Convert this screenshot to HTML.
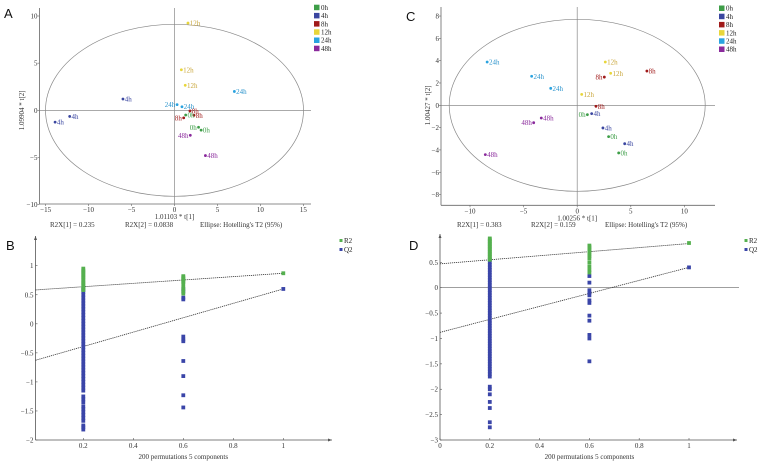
<!DOCTYPE html>
<html><head><meta charset="utf-8"><style>
html,body{margin:0;padding:0;background:#fff;}
svg{display:block;font-family:"Liberation Serif",serif;}
</style></head><body>
<svg id="fig" width="763" height="466" viewBox="0 0 763 466" xmlns="http://www.w3.org/2000/svg"></svg>
<script>
// ---------- Data: score plot A ----------
const aGroups = ["12h","12h","12h","24h","4h","4h","4h","24h","24h","8h","8h","8h","0h","0h","0h","48h","48h"];
const aX = [1.57,0.8,1.25,6.97,-6.0,-12.2,-13.9,0.3,0.87,1.8,2.27,1.07,1.3,2.8,3.1,1.84,3.6];
const aY = [9.25,4.3,2.65,2.0,1.2,-0.65,-1.25,0.6,0.38,-0.07,-0.53,-0.8,-0.5,-1.8,-2.1,-2.65,-4.8];
const aSide = ["r","r","r","r","r","r","r","l","r","r","r","l","r","l","r","l","r"];
// ---------- Data: score plot C ----------
const cGroups = ["24h","24h","24h","12h","12h","12h","8h","8h","8h","0h","4h","4h","0h","4h","0h","48h","48h","48h"];
const cX = [-8.4,-4.25,-2.47,2.62,3.12,0.42,6.5,2.53,1.75,0.95,1.35,2.4,2.93,4.43,3.87,-3.35,-4.06,-8.57];
const cY = [3.88,2.6,1.52,3.88,2.87,0.98,3.07,2.53,-0.09,-0.84,-0.75,-2.03,-2.81,-3.44,-4.27,-1.14,-1.56,-4.42];
const cSide = ["r","r","r","r","r","r","r","l","r","l","r","r","r","r","r","r","l","r"];
// ---------- Data: permutation B ----------
const bR2_02 = [0.95,0.92,0.9,0.88,0.85,0.83,0.8,0.78,0.75,0.72,0.7,0.68,0.65,0.62,0.6,0.58];
const bQ2_02 = [0.62,0.58,0.55,0.5,0.45,0.4,0.35,0.3,0.25,0.2,0.15,0.1,0.05,0,-0.05,-0.1,-0.15,-0.2,-0.25,-0.3,-0.35,-0.4,-0.45,-0.5,-0.55,-0.6,-0.65,-0.7,-0.75,-0.8,-0.85,-0.9,-0.95,-1,-1.05,-1.1,-1.15,-1.25,-1.3,-1.35,-1.42,-1.47,-1.52,-1.57,-1.62,-1.67,-1.75,-1.78,-1.82];
const bR2_06 = [0.82,0.8,0.78,0.76,0.74,0.72,0.68,0.62,0.57,0.52];
const bQ2_06 = [0.6,0.55,0.45,0.42,-0.22,-0.27,-0.3,-0.64,-0.9,-1.23,-1.44];
const bR2_1 = [0.87];
const bQ2_1 = [0.6];
const bR2Line = [0.58,0.87];
const bQ2Line = [-0.64,0.6];
// ---------- Data: permutation D ----------
const dR2_02 = [0.97,0.95,0.92,0.9,0.87,0.85,0.82,0.8,0.77,0.75,0.72,0.7,0.67,0.65,0.62,0.6,0.57,0.55];
const dQ2_02 = [0.55,0.5,0.45,0.4,0.35,0.3,0.25,0.2,0.15,0.1,0.05,0,-0.05,-0.1,-0.15,-0.2,-0.25,-0.3,-0.35,-0.4,-0.45,-0.5,-0.55,-0.6,-0.65,-0.7,-0.75,-0.8,-0.85,-0.9,-0.95,-1,-1.05,-1.1,-1.15,-1.2,-1.25,-1.3,-1.35,-1.4,-1.45,-1.5,-1.55,-1.6,-1.65,-1.7,-1.75,-1.95,-2,-2.1,-2.25,-2.37,-2.65,-2.75];
const dR2_06 = [0.83,0.8,0.77,0.74,0.7,0.66,0.62,0.58,0.5,0.42,0.35,0.3];
const dQ2_06 = [0.23,0.1,-0.05,-0.1,-0.15,-0.25,-0.3,-0.55,-0.65,-0.93,-1.0,-1.45];
const dR2_1 = [0.88];
const dQ2_1 = [0.4];
const dR2Line = [0.47,0.87];
const dQ2Line = [-0.88,0.4];
// ---------- Legend ----------
const legendGroups = ["0h","4h","8h","12h","24h","48h"];
const groupColors = {"0h":"#3e9e48","4h":"#3a46a0","8h":"#a01a1a","12h":"#e8d63a","24h":"#2aa3e0","48h":"#8a2a9c"};
const groupText = {"0h":"#3e9e48","4h":"#3a46a0","8h":"#a01a1a","12h":"#c9a63a","24h":"#2a93cc","48h":"#8a2a9c"};
const R2C = "#55b04f", Q2C = "#3a45a8";

const NS = "http://www.w3.org/2000/svg";
const svg = document.getElementById("fig");
function el(tag, attrs, parent, txt){
  const e = document.createElementNS(NS, tag);
  for (const k in attrs) e.setAttribute(k, attrs[k]);
  if (txt !== undefined) e.textContent = txt;
  (parent || svg).appendChild(e);
  return e;
}
function grp(name){
  const g = document.createElementNS(NS, "g");
  
  
  svg.appendChild(g);
  return g;
}
function txt(g, x, y, s, opts){
  const t = el("text", Object.assign({x:x, y:y, "font-size":7, fill:"#333"}, opts||{}), g, s);
  return t;
}

// ---------- Score plot ----------
function scorePlot(c){
  const g = grp(c.name);
  const sx = v => c.x0 + c.kx * v;
  const sy = v => c.y0 - c.ky * v;
  // axes
  el("line",{x1:c.left,y1:c.top,x2:c.left,y2:c.bottom,stroke:"#666","stroke-width":0.8},g);
  el("line",{x1:c.left,y1:c.bottom,x2:c.right,y2:c.bottom,stroke:"#666","stroke-width":0.8},g);
  el("line",{x1:c.left,y1:sy(0),x2:c.right,y2:sy(0),stroke:"#777","stroke-width":0.7},g);
  el("line",{x1:sx(0),y1:c.top,x2:sx(0),y2:c.bottom,stroke:"#888","stroke-width":0.7},g);
  el("ellipse",{cx:sx(0),cy:sy(0),rx:c.rx,ry:c.ry,fill:"none",stroke:"#888","stroke-width":0.7},g);
  c.xt.forEach(v=>{
    el("line",{x1:sx(v),y1:c.bottom,x2:sx(v),y2:c.bottom+2,stroke:"#666","stroke-width":0.6},g);
    const t = txt(g,sx(v),c.bottom+8,String(v).replace("-","−"),{"text-anchor":"middle"});
    
    
  });
  c.yt.forEach(v=>{
    el("line",{x1:c.left-2,y1:sy(v),x2:c.left,y2:sy(v),stroke:"#666","stroke-width":0.6},g);
    const t = txt(g,c.left-2,sy(v)+2.5,String(v).replace("-","−"),{"text-anchor":"end"});
    
    
  });
  const xt = txt(g,sx(0),c.bottom+15,c.xTitle,{"text-anchor":"middle"});
  
  
  const yt = txt(g,0,0,c.yTitle,{"text-anchor":"middle",transform:`translate(${c.yTitleX},${sy(0)}) rotate(-90)`});
  
  
  c.stats.forEach((s,i)=>{
    const t = txt(g,s[1],227,s[0]);
    
    
  });
  // points
  c.X.forEach((v,i)=>{
    const gr = c.G[i];
    const px = sx(v), py = sy(c.Y[i]);
    const p = el("circle",{cx:px,cy:py,r:1.4,fill:groupColors[gr]},g);
    
    
    const lab = c.S[i]==="l"
      ? txt(g,px-1.8,py+2.5,gr,{"text-anchor":"end",fill:groupText[gr]})
      : txt(g,px+1.8,py+2.5,gr,{fill:groupText[gr]});
    
    
  });
  // legend
  legendGroups.forEach((gr,i)=>{
    const y = c.legY + i*8.2;
    const r = el("rect",{x:c.legX,y:y-2.8,width:5.5,height:5.5,fill:groupColors[gr]},g);
    
    
    const t = txt(g,c.legX+7,y+2.4,gr,{fill:"#222"});
    
    
  });
  const L = el("text",{x:c.letterX,y:c.letterY,"font-size":13,fill:"#111","font-family":"Liberation Sans, sans-serif"},g,c.letter);
  
  
}

scorePlot({name:"score-plot-a",letter:"A",letterX:4,letterY:18,x0:174.5,kx:8.59,y0:110.3,ky:9.43,
  left:39.5,right:311,top:8,bottom:204,rx:129,ry:86,xt:[-15,-10,-5,0,5,10,15],yt:[-10,-5,0,5,10],
  xTitle:"1.01103 * t[1]",yTitle:"1.09904 * t[2]",yTitleX:24,
  stats:[["R2X[1] = 0.235",50],["R2X[2] = 0.0838",125],["Ellipse: Hotelling's T2 (95%)",200]],
  X:aX,Y:aY,G:aGroups,S:aSide,legX:314,legY:7.5});
scorePlot({name:"score-plot-c",letter:"C",letterX:406,letterY:21,x0:577.2,kx:10.72,y0:105.3,ky:11.16,
  left:441,right:715,top:7,bottom:205.3,rx:128,ry:86,xt:[-10,-5,0,5,10],yt:[-8,-6,-4,-2,0,2,4,6,8],
  xTitle:"1.00256 * t[1]",yTitle:"1.00427 * t[2]",yTitleX:430,
  stats:[["R2X[1] = 0.383",457],["R2X[2] = 0.159",531],["Ellipse: Hotelling's T2 (95%)",605]],
  X:cX,Y:cY,G:cGroups,S:cSide,legX:719,legY:8.3});

// ---------- Permutation plot ----------
function permPlot(c){
  const g = grp(c.name);
  const sx = v => c.x0 + c.kx * v;
  const sy = v => c.y0 - c.ky * v;
  el("line",{x1:c.left,y1:c.top,x2:c.left,y2:c.bottom,stroke:"#555","stroke-width":0.8},g);
  el("path",{d:`M${c.left-1.5},${c.top+4} L${c.left},${c.top} L${c.left+1.5},${c.top+4}Z`,fill:"#555"},g);
  el("line",{x1:c.left,y1:c.bottom,x2:c.right,y2:c.bottom,stroke:"#555","stroke-width":0.8},g);
  el("path",{d:`M${c.right-4},${c.bottom-1.5} L${c.right},${c.bottom} L${c.right-4},${c.bottom+1.5}Z`,fill:"#555"},g);
  if (c.zeroLine) el("line",{x1:c.left,y1:sy(0),x2:c.zeroRight,y2:sy(0),stroke:"#666","stroke-width":0.7},g);
  c.xt.forEach(v=>{
    el("line",{x1:sx(v),y1:c.bottom,x2:sx(v),y2:c.bottom-2,stroke:"#555","stroke-width":0.6},g);
    const t = txt(g,sx(v),c.bottom+8,String(v),{"text-anchor":"middle"});
    
    
  });
  c.yt.forEach(v=>{
    el("line",{x1:c.left,y1:sy(v),x2:c.left+2,y2:sy(v),stroke:"#555","stroke-width":0.6},g);
    const t = txt(g,c.left-2,sy(v)+2.5,String(v).replace("-","−"),{"text-anchor":"end"});
    
    
  });
  const xt = txt(g,sx(0.6),c.bottom+19,"200 permutations 5 components",{"text-anchor":"middle"});
  
  
  // regression lines
  const l1 = el("line",{x1:c.left,y1:sy(c.r2Line[0]+(c.r2Line[1]-c.r2Line[0])*c.xmin),x2:sx(1),y2:sy(c.r2Line[1]),stroke:"#333","stroke-width":0.8,"stroke-dasharray":"1.2 0.8"},g);
  
  
  const l2 = el("line",{x1:c.left,y1:sy(c.q2Line[0]+(c.q2Line[1]-c.q2Line[0])*c.xmin),x2:sx(1),y2:sy(c.q2Line[1]),stroke:"#333","stroke-width":0.8,"stroke-dasharray":"1.2 0.8"},g);
  
  
  function pts(xv, arr, col, nm){
    arr.forEach(v=>{
      const r = el("rect",{x:sx(xv)-1.9,y:sy(v)-1.9,width:3.8,height:3.8,fill:col},g);
      
      
    });
  }
  pts(0.2,c.q2[0],Q2C,"q2-point"); pts(0.6,c.q2[1],Q2C,"q2-point"); pts(1,c.q2[2],Q2C,"q2-point");
  pts(0.2,c.r2[0],R2C,"r2-point"); pts(0.6,c.r2[1],R2C,"r2-point"); pts(1,c.r2[2],R2C,"r2-point");
  // legend
  [["R2",R2C],["Q2",Q2C]].forEach((e,i)=>{
    const y = c.legY + i*9;
    const r = el("rect",{x:c.legX-1.5,y:y-3,width:3,height:3,fill:e[1]},g);
    
    
    const t = txt(g,c.legX+3,y+1,e[0],{fill:"#222"});
    
    
  });
  const L = el("text",{x:c.letterX,y:c.letterY,"font-size":13,fill:"#111","font-family":"Liberation Sans, sans-serif"},g,c.letter);
  
  
}

permPlot({name:"permutation-plot-b",letter:"B",letterX:6,letterY:250,x0:33.3,kx:250,y0:323.8,ky:58.1,
  left:35.5,right:332,top:236,bottom:440,xmin:0.01,xt:[0.2,0.4,0.6,0.8,1],yt:[1,0.5,0,-0.5,-1,-1.5,-2],
  r2:[bR2_02,bR2_06,bR2_1],q2:[bQ2_02,bQ2_06,bQ2_1],r2Line:bR2Line,q2Line:bQ2Line,legX:341,legY:242});
permPlot({name:"permutation-plot-d",letter:"D",letterX:409,letterY:250,x0:440,kx:249,y0:287.7,ky:50.77,
  left:440,right:737,top:234,bottom:440,xmin:0,xt:[0,0.2,0.4,0.6,0.8,1],yt:[0.5,0,-0.5,-1,-1.5,-2,-2.5,-3],
  zeroLine:true,zeroRight:739,
  r2:[dR2_02,dR2_06,dR2_1],q2:[dQ2_02,dQ2_06,dQ2_1],r2Line:dR2Line,q2Line:dQ2Line,legX:746,legY:242});
</script>
</body></html>
